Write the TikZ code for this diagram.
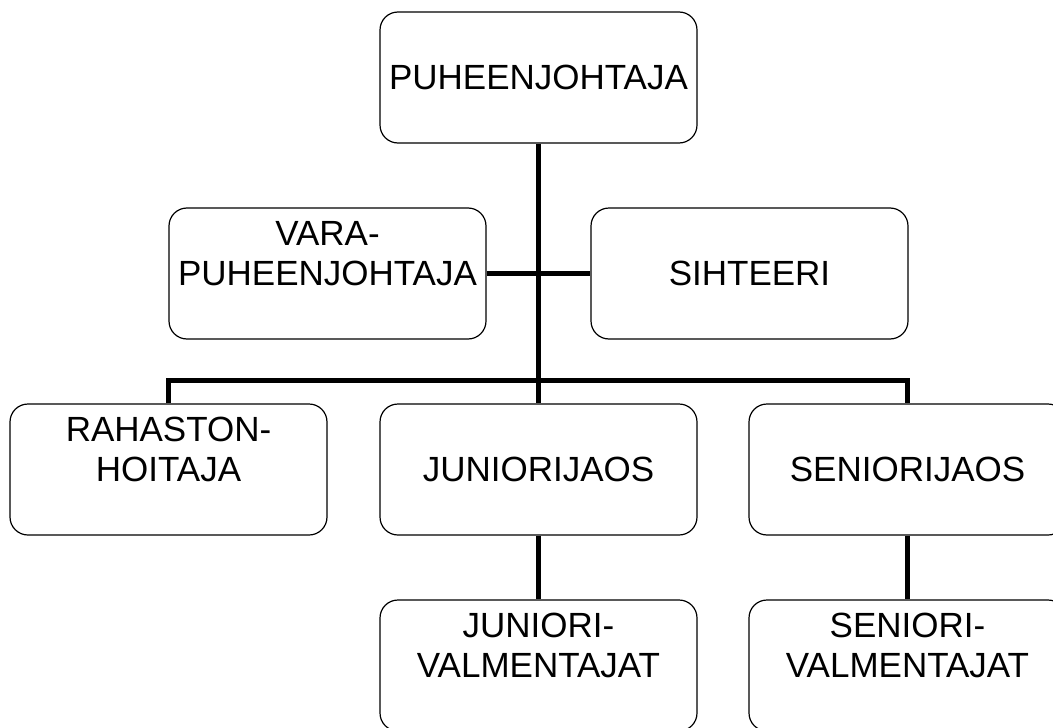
\documentclass[tikz,border=0pt]{standalone}
\usepackage{fontspec}
\setmainfont{Liberation Sans}
\usepackage{tikz}
\newcommand{\orgfont}{\fontsize{35}{40.5}\selectfont}

\begin{document}
\begin{tikzpicture}[x=1pt,y=-1pt,
  orgbox/.style={draw=black, line width=1.2pt, rounded corners=18pt, minimum width=317pt, minimum height=131pt, inner sep=2pt, align=center, font=\orgfont},
  link/.style={draw=black, line width=5pt}]
\clip (0,0) rectangle (1053,728);
\node [orgbox] (puh) at (538.5,77.5) {PUHEENJOHTAJA};
\node [orgbox] (vara) at (327.5,273.5) {VARA-\\PUHEENJOHTAJA\\~};
\node [orgbox] (siht) at (749.5,273.5) {SIHTEERI};
\node [orgbox] (rahas) at (168.5,469.5) {RAHASTON-\\HOITAJA\\~};
\node [orgbox] (junjaos) at (538.5,469.5) {JUNIORIJAOS};
\node [orgbox] (senjaos) at (907.5,469.5) {SENIORIJAOS};
\node [orgbox] (junval) at (538.5,665.5) {JUNIORI-\\VALMENTAJAT\\~};
\node [orgbox] (senval) at (907.5,665.5) {SENIORI-\\VALMENTAJAT\\~};
\coordinate (bus) at (538.5,380);
\draw [link] (puh.south) -- (bus) -- (junjaos.north);
\draw [link] (vara.east) -- (siht.west);
\draw [link] (rahas.north) |- (bus) -| (senjaos.north);
\draw [link] (junjaos.south) -- (junval.north);
\draw [link] (senjaos.south) -- (senval.north);
\end{tikzpicture}
\end{document}
